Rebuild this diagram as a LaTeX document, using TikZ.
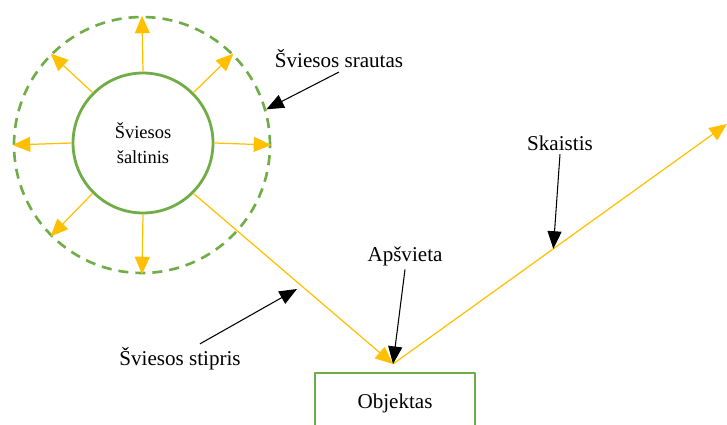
\documentclass[tikz,border=0pt]{standalone}
\usepackage{fontspec}
\setmainfont{Liberation Serif}
\usetikzlibrary{arrows.meta}
\definecolor{leaf}{HTML}{70AD47}
\definecolor{gold}{HTML}{FFC000}
\begin{document}
\begin{tikzpicture}[x=0.02cm, y=-0.02cm, font=\fontsize{12}{14}\selectfont,
    line join=round,
    ray/.style={gold, line width=0.7pt, -{Triangle[length=10pt,width=8.5pt]}},
    callout/.style={black, line width=0.6pt, -{Triangle[length=10pt,width=8pt]}},
    lbl/.style={inner sep=2pt}]
    \useasboundingbox (0,0) rectangle (727,425);
    \path
    (393,364) coordinate (hit)
    (727,124) coordinate (out)
    (297,289) coordinate (stipT)
    ;
    %\draw[gray!50] (0,0) grid (727,425);
    \node[circle, draw=leaf, line width=1.5pt, minimum size=5.12cm,
        dash pattern=on 5.7pt off 4pt] (flux) at (142,145) {};
    \node[circle, draw=leaf, line width=1.6pt, minimum size=2.8cm, align=center,
        font=\fontsize{10.5}{14}\selectfont] (src) at (143,143) {Šviesos\\šaltinis};
    \foreach \a in {0,45,90,135,180,225,270}
    \draw[ray] (src.\a) -- (flux.\a);
    \draw[ray] (src.-45) -- (hit);
    \draw[ray] (hit) -- coordinate[pos=0.48] (bright) (out);
    \node[draw=leaf, line width=1.6pt, minimum width=3.2cm, minimum height=1.2cm]
    (obj) at (395,403) {Objektas};
    \node[lbl] (fluxlbl) at (339,59) {Šviesos srautas};
    \node[lbl] (apsv) at (405,256) {Apšvieta};
    \node[lbl] (skl) at (560,143) {Skaistis};
    \node[lbl] (stip) at (180,359) {Šviesos stipris};
    \draw[callout] (fluxlbl.south) -- (flux.16);
    \draw[callout] (apsv.south) -- (hit);
    \draw[callout] (skl.south) -- (bright);
    \draw[callout] ([xshift=0.4cm]stip.north) -- (stipT);
\end{tikzpicture}
\end{document}
